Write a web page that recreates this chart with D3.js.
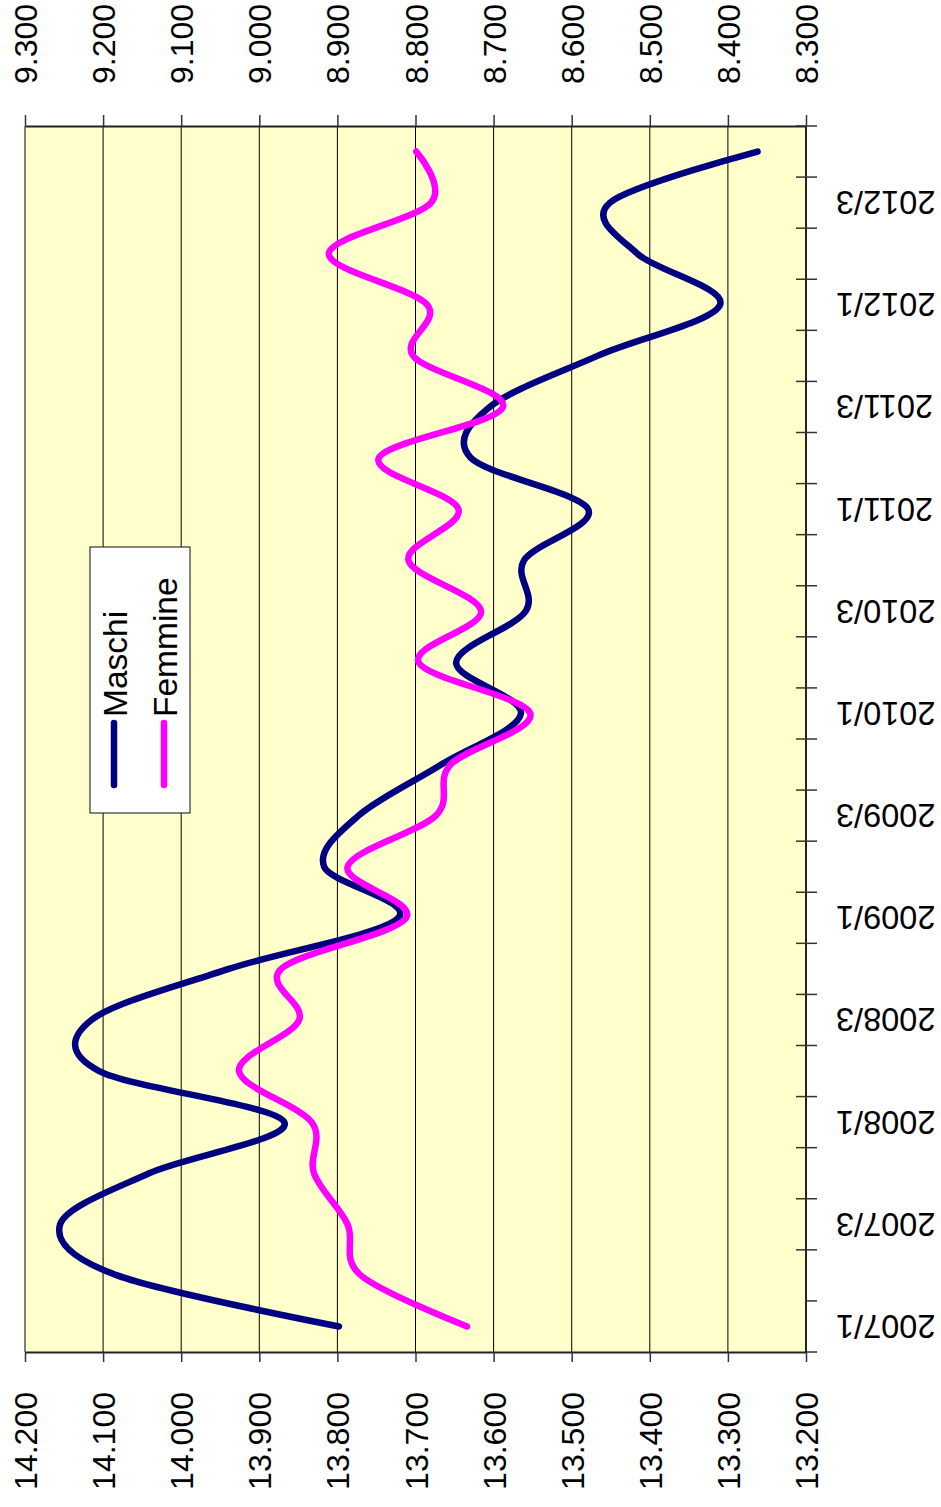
<!DOCTYPE html>
<html>
<head>
<meta charset="utf-8">
<script src="https://cdn.jsdelivr.net/npm/d3@7"></script>
<style>
  html, body { margin: 0; padding: 0; background: #fff; }
  svg { display: block; }
  text { font-family: "Liberation Sans", Arial, sans-serif; fill: #000; }
</style>
</head>
<body>
<svg id="chart" width="941" height="1507"></svg>
<script>
// Quarterly periods (year/quarter)
const periods = [
  "2007/1","2007/2","2007/3","2007/4",
  "2008/1","2008/2","2008/3","2008/4",
  "2009/1","2009/2","2009/3","2009/4",
  "2010/1","2010/2","2010/3","2010/4",
  "2011/1","2011/2","2011/3","2011/4",
  "2012/1","2012/2","2012/3","2012/4"
];

// Values in thousands
const maschi = [
  13798, 14082, 14155, 14041,
  13868, 14105, 14115, 13939,
  13722, 13817, 13773, 13667,
  13565, 13648, 13559, 13561,
  13479, 13629, 13605, 13467,
  13310, 13416, 13451, 13262
];
const femmine = [
  8734, 8870, 8887, 8930,
  8933, 9026, 8949, 8972,
  8812, 8887, 8774, 8755,
  8653, 8796, 8716, 8809,
  8745, 8847, 8688, 8803,
  8785, 8911, 8780, 8799
];

// Axis tick values
const maschiTicks = [13200, 13300, 13400, 13500, 13600, 13700, 13800, 13900, 14000, 14100, 14200];
const femmineTicks = [8300, 8400, 8500, 8600, 8700, 8800, 8900, 9000, 9100, 9200, 9300];

const seriesNames = ["Maschi", "Femmine"];
const seriesColors = ["#000080", "#FF00FF"];

const it = d3.formatLocale({ decimal: ",", thousands: ".", grouping: [3], currency: ["€", ""] });
const fmt = it.format(",.0f");

const svg = d3.select("#chart");
const plot = { left: 25, right: 806, top: 126, bottom: 1352 };
const FS = 32;
const CAP = 11.5; // half cap height at this font size

// The chart is laid out sideways: time runs bottom to top, values grow to the left.
const y = d3.scaleBand(periods, [plot.bottom, plot.top]);
const xM = d3.scaleLinear([13200, 14200], [plot.right, plot.left]);
const xF = d3.scaleLinear([8300, 9300], [plot.right, plot.left]);
const yc = p => y(p) + y.bandwidth() / 2;

// Plot area
svg.append("rect")
  .attr("x", plot.left).attr("y", plot.top)
  .attr("width", plot.right - plot.left).attr("height", plot.bottom - plot.top)
  .attr("fill", "#FFFFCC");

// Gridlines
svg.append("g").selectAll("line")
  .data(maschiTicks.slice(1, -1))
  .join("line")
  .attr("x1", d => xM(d)).attr("x2", d => xM(d))
  .attr("y1", plot.top).attr("y2", plot.bottom)
  .attr("stroke", "#000").attr("stroke-width", 1);

// Plot-area left border
svg.append("line")
  .attr("x1", plot.left).attr("x2", plot.left)
  .attr("y1", plot.top).attr("y2", plot.bottom)
  .attr("stroke", "#808080").attr("stroke-width", 2);

// Maschi value axis (bottom)
const axB = svg.append("g")
  .attr("transform", `translate(0,${plot.bottom})`)
  .call(d3.axisBottom(xM).tickValues(maschiTicks).tickSize(10).tickSizeOuter(0).tickFormat(fmt));
axB.select(".domain").attr("stroke", "#222").attr("stroke-width", 2);
axB.selectAll(".tick line").attr("stroke", "#333").attr("stroke-width", 1.5);
axB.selectAll(".tick text")
  .attr("font-size", FS).attr("font-family", "Liberation Sans, Arial, sans-serif")
  .attr("text-anchor", "end")
  .attr("transform", `translate(${CAP},40) rotate(-90)`)
  .attr("x", 0).attr("y", 0).attr("dy", 0);

// Femmine value axis (top)
const axT = svg.append("g")
  .attr("transform", `translate(0,${plot.top})`)
  .call(d3.axisTop(xF).tickValues(femmineTicks).tickSize(11).tickSizeOuter(0).tickFormat(fmt));
axT.select(".domain").attr("stroke", "#222").attr("stroke-width", 2);
axT.selectAll(".tick line").attr("stroke", "#333").attr("stroke-width", 1.5);
axT.selectAll(".tick text")
  .attr("font-size", FS).attr("font-family", "Liberation Sans, Arial, sans-serif")
  .attr("text-anchor", "start")
  .attr("transform", `translate(${CAP},-42) rotate(-90)`)
  .attr("x", 0).attr("y", 0).attr("dy", 0);

// Category axis (right side)
const axR = svg.append("g").attr("transform", `translate(${plot.right},0)`);
axR.append("line")
  .attr("x1", 0).attr("x2", 0).attr("y1", plot.top).attr("y2", plot.bottom)
  .attr("stroke", "#222").attr("stroke-width", 2);
const bounds = periods.map(p => y(p)).concat([y(periods[0]) + y.bandwidth()]);
axR.selectAll("line.tk")
  .data(bounds)
  .join("line").attr("class", "tk")
  .attr("x1", (d, i) => (i === 0 || i === bounds.length - 1) ? 0 : -10).attr("x2", 11)
  .attr("y1", d => d).attr("y2", d => d)
  .attr("stroke", "#333").attr("stroke-width", 1.5);
axR.selectAll("text")
  .data(periods.filter((p, i) => i % 2 === 0))
  .join("text")
  .attr("font-size", FS + 0.5)
  .attr("text-anchor", "end")
  .attr("transform", d => `translate(30,${yc(d) - CAP}) rotate(180)`)
  .text(d => d);

// Series lines
const series = [maschi, femmine];
const scales = [xM, xF];
series.forEach((vals, s) => {
  const line = d3.line()
    .x((d, i) => scales[s](d))
    .y((d, i) => yc(periods[i]))
    .curve(d3.curveCardinal.tension(0));
  svg.append("path")
    .datum(vals)
    .attr("d", line)
    .attr("fill", "none")
    .attr("stroke", seriesColors[s])
    .attr("stroke-width", 6.5)
    .attr("stroke-linecap", "round")
    .attr("stroke-linejoin", "round");
});

// Legend
const lg = svg.append("g");
lg.append("rect")
  .attr("x", 90).attr("y", 547).attr("width", 100).attr("height", 266)
  .attr("fill", "#fff").attr("stroke", "#333").attr("stroke-width", 1.2);
seriesNames.forEach((name, i) => {
  const cx = 114 + i * 50;
  lg.append("line")
    .attr("x1", cx).attr("x2", cx).attr("y1", 723).attr("y2", 785)
    .attr("stroke", seriesColors[i]).attr("stroke-width", 6.5)
    .attr("stroke-linecap", "round");
  lg.append("text")
    .attr("font-size", 33.5)
    .attr("text-anchor", "start")
    .attr("transform", `translate(${cx + 12.5},717) rotate(-90)`)
    .text(name);
});
</script>
</body>
</html>
